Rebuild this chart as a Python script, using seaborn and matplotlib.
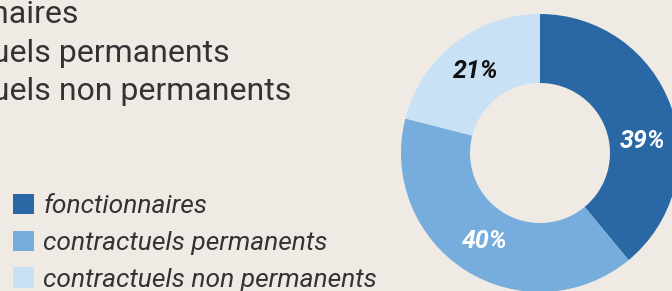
import warnings
warnings.filterwarnings("ignore")
import matplotlib
matplotlib.use("Agg")
import matplotlib.pyplot as plt
import seaborn as sns

sns.set_style("white")
plt.rcParams['font.family'] = ['Roboto', 'DejaVu Sans']

BG = '#EFEAE4'
categories = ['fonctionnaires', 'contractuels permanents', 'contractuels non permanents']
shares = [39, 40, 21]
colors = ['#2A68A5', '#76ADDC', '#C9E1F4']
label_colors = ['white', 'white', '#111111']

W, H = 672, 291
fig = plt.figure(figsize=(W / 100, H / 100), dpi=100, facecolor=BG)
ax = fig.add_axes([0, 0, 1, 1])
ax.set_facecolor(BG)

# donut, clockwise from the top
wedges, texts, autotexts = ax.pie(
    shares, colors=colors, startangle=90, counterclock=False,
    center=(540, H - 153), radius=139, autopct='%d%%', pctdistance=0.75,
    wedgeprops=dict(width=69, edgecolor='none'), frame=True)
ax.set_xlim(0, W); ax.set_ylim(0, H)
ax.set_aspect('equal')
ax.axis('off')
for t, c in zip(autotexts, label_colors):
    t.set_color(c); t.set_fontsize(18); t.set_fontweight('bold'); t.set_fontstyle('italic')
autotexts[0].set_position((643, H - 141))

# title block at top-left, partly off the canvas in the source
for i, name in enumerate(categories):
    ax.text(-127, H - 23 - i * 38.5, name, fontsize=23, color='#333333',
            ha='left', va='baseline', clip_on=False)

# legend
leg = ax.legend(wedges, categories, loc='upper left', bbox_to_anchor=(13 / W, 1 - 194 / H),
                frameon=False, handlelength=0.8, handleheight=0.8, handletextpad=0.35,
                labelspacing=0.47, borderaxespad=0, borderpad=0,
                prop=dict(family='Roboto', style='italic', weight='normal', size=19))
for t in leg.get_texts():
    t.set_color('#333333')

fig.savefig('out.png', dpi=100, facecolor=BG)
